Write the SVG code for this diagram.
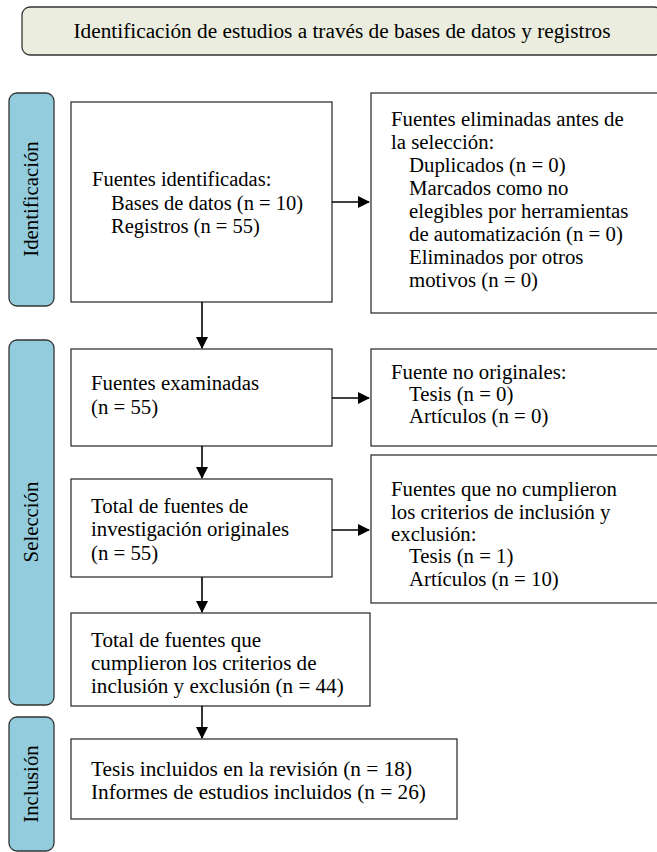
<svg xmlns="http://www.w3.org/2000/svg" width="657" height="852" viewBox="0 0 657 852">
<style>
text{font-family:"Liberation Serif","Times New Roman",serif;font-size:20.8px;fill:#000}
.box{fill:#fff;stroke:#333;stroke-width:1.3}
.bar{fill:#93CDDD;stroke:#333;stroke-width:1.3}
.ban{fill:#EBEEDF;stroke:#333;stroke-width:1.3}
.lbl{text-anchor:middle}
.con line{stroke:#000;stroke-width:1.6}
</style>
<defs>
<marker id="ah" markerWidth="12" markerHeight="12" refX="11" refY="6" orient="auto" markerUnits="userSpaceOnUse" viewBox="0 0 12 12">
<path d="M0,0 L12,6 L0,12 Z" fill="#000"/>
</marker>
</defs>
<g id="banner">
<rect class="ban" x="22" y="7" width="640" height="48" rx="8"/>
<text x="342" y="38" class="lbl" style="font-size:21.3px">Identificación de estudios a través de bases de datos y registros</text>
</g>
<g id="bar-identificacion">
<rect class="bar" x="9" y="93" width="45" height="213" rx="8"/>
<text class="lbl" transform="translate(38,199) rotate(-90)">Identificación</text>
</g>
<g id="bar-seleccion">
<rect class="bar" x="9" y="340" width="45" height="365" rx="8"/>
<text class="lbl" transform="translate(38,522) rotate(-90)">Selección</text>
</g>
<g id="bar-inclusion">
<rect class="bar" x="9" y="717" width="45" height="134" rx="8"/>
<text class="lbl" transform="translate(38,784) rotate(-90)">Inclusión</text>
</g>
<g id="box-identificadas" style="font-size:20.5px">
<rect class="box" x="71" y="102" width="261" height="200"/>
<text x="92" y="186" style="font-size:20.5px">Fuentes identificadas:</text>
<text x="111" y="210" style="font-size:20.5px">Bases de datos (n = 10)</text>
<text x="111" y="233" style="font-size:20.5px">Registros (n = 55)</text>
</g>
<g id="box-eliminadas">
<rect class="box" x="371" y="93" width="290" height="220"/>
<text x="391" y="126">Fuentes eliminadas antes de</text>
<text x="391" y="149">la selección:</text>
<text x="409" y="172">Duplicados (n = 0)</text>
<text x="409" y="195">Marcados como no</text>
<text x="409" y="218">elegibles por herramientas</text>
<text x="409" y="241">de automatización (n = 0)</text>
<text x="409" y="264">Eliminados por otros</text>
<text x="409" y="287">motivos (n = 0)</text>
</g>
<g id="box-examinadas">
<rect class="box" x="71" y="349" width="261" height="97"/>
<text x="91" y="390">Fuentes examinadas</text>
<text x="91" y="414">(n = 55)</text>
</g>
<g id="box-no-originales">
<rect class="box" x="371" y="349" width="290" height="97"/>
<text x="391" y="379">Fuente no originales:</text>
<text x="409" y="401">Tesis (n = 0)</text>
<text x="409" y="423">Artículos (n = 0)</text>
</g>
<g id="box-originales">
<rect class="box" x="71" y="479" width="261" height="98"/>
<text x="91" y="513">Total de fuentes de</text>
<text x="91" y="536">investigación originales</text>
<text x="91" y="560">(n = 55)</text>
</g>
<g id="box-no-cumplieron">
<rect class="box" x="371" y="455" width="290" height="148"/>
<text x="391" y="496">Fuentes que no cumplieron</text>
<text x="391" y="519">los criterios de inclusión y</text>
<text x="391" y="541">exclusión:</text>
<text x="409" y="563">Tesis (n = 1)</text>
<text x="409" y="586">Artículos (n = 10)</text>
</g>
<g id="box-cumplieron">
<rect class="box" x="71" y="613" width="299" height="93"/>
<text x="91" y="647" style="font-size:21.1px">Total de fuentes que</text>
<text x="91" y="670" style="font-size:21.1px">cumplieron los criterios de</text>
<text x="91" y="693" style="font-size:21.1px">inclusión y exclusión (n = 44)</text>
</g>
<g id="box-incluidos">
<rect class="box" x="71" y="739" width="386" height="80"/>
<text x="91" y="776" style="font-size:21.3px">Tesis incluidos en la revisión (n = 18)</text>
<text x="91" y="799" style="font-size:21.3px">Informes de estudios incluidos (n = 26)</text>
</g>
<g class="con" id="connectors">
<line x1="332" y1="202" x2="369" y2="202" marker-end="url(#ah)"/>
<line x1="202" y1="302" x2="202" y2="348" marker-end="url(#ah)"/>
<line x1="332" y1="398" x2="369" y2="398" marker-end="url(#ah)"/>
<line x1="202" y1="446" x2="202" y2="478" marker-end="url(#ah)"/>
<line x1="332" y1="530" x2="369" y2="530" marker-end="url(#ah)"/>
<line x1="202" y1="577" x2="202" y2="612" marker-end="url(#ah)"/>
<line x1="202" y1="706" x2="202" y2="738" marker-end="url(#ah)"/>
</g>
</svg>
